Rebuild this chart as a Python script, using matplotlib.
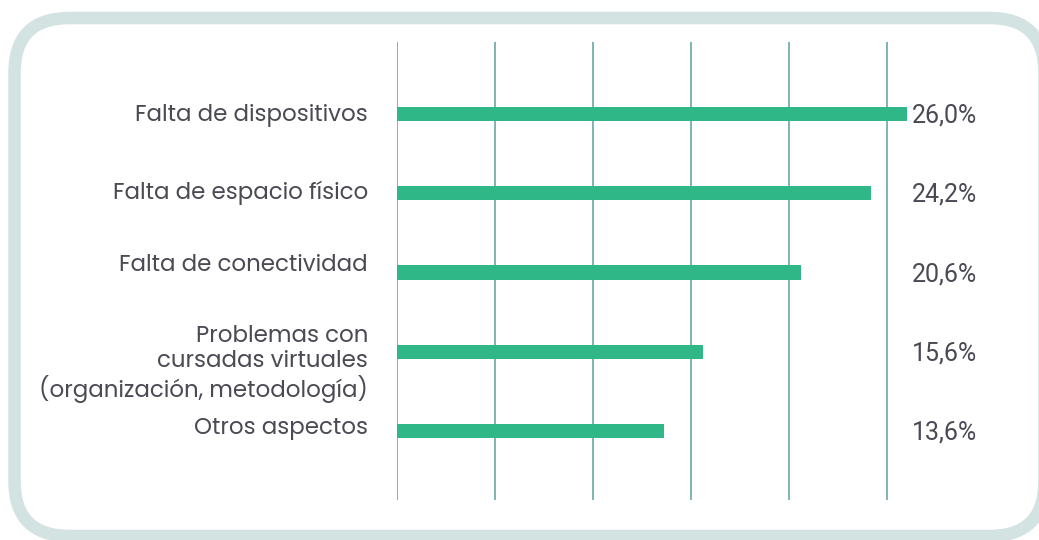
import matplotlib
matplotlib.use('Agg')
import matplotlib.pyplot as plt
from matplotlib.patches import FancyBboxPatch
from matplotlib.transforms import blended_transform_factory

categories = [
    'Falta de dispositivos',
    'Falta de espacio físico',
    'Falta de conectividad',
    'Problemas con\ncursadas virtuales\n(organización, metodología)',
    'Otros aspectos',
]
values = [26.0, 24.2, 20.6, 15.6, 13.6]
grid_ticks = [0, 5, 10, 15, 20, 25]
# small vertical nudges (pixels) for the category labels
label_dy = [-2, 0, 7, -12, 3]

BAR = '#2fb787'
GRID = '#6aa8a5'
TEXT = '#4a4a55'
FRAME = '#d2e3e2'

plt.rcParams['font.family'] = ['Poppins', 'Inter', 'DejaVu Sans']

W, H = 1039, 540
fig = plt.figure(figsize=(W / 100, H / 100), dpi=100)

# rounded frame around the whole chart
frame = FancyBboxPatch((0.145, 0.04), 10.3, 5.18,
                       boxstyle='round,pad=0,rounding_size=0.55',
                       transform=fig.dpi_scale_trans, facecolor='white',
                       edgecolor=FRAME, linewidth=9, zorder=-5)
fig.patches.append(frame)

left = 397 / W
right_px = 397 + 28 * 19.6
ax = fig.add_axes([left, 1 - 500 / H, (right_px - 397) / W, 458 / H])
ax.set_zorder(2)
ax.set_facecolor('none')
ax.set_xlim(0, 28)
ax.set_ylim(4.87, -0.908)

for t in grid_ticks:
    ax.axvline(t, color=GRID, linewidth=1.2, zorder=1)

ypos = list(range(len(values)))
ax.barh(ypos, values, height=0.18, color=BAR, zorder=2)

for s in ax.spines.values():
    s.set_visible(False)
ax.set_xticks([])
ax.set_yticks([])

lab_tr = blended_transform_factory(fig.transFigure, ax.transData)
for i, (cat, v) in enumerate(zip(categories, values)):
    ax.text(368 / W, i - label_dy[i] / 79.25, cat, transform=lab_tr,
            ha='right', va='center', fontsize=16.5, color=TEXT,
            linespacing=1.1)
    ax.text(977 / W, i + 1.5 / 79.25, f'{v:.1f}%'.replace('.', ','),
            transform=lab_tr, ha='right', va='center', fontsize=18,
            color=TEXT, family=['Roboto', 'DejaVu Sans'])

fig.savefig('out.png', dpi=100)
